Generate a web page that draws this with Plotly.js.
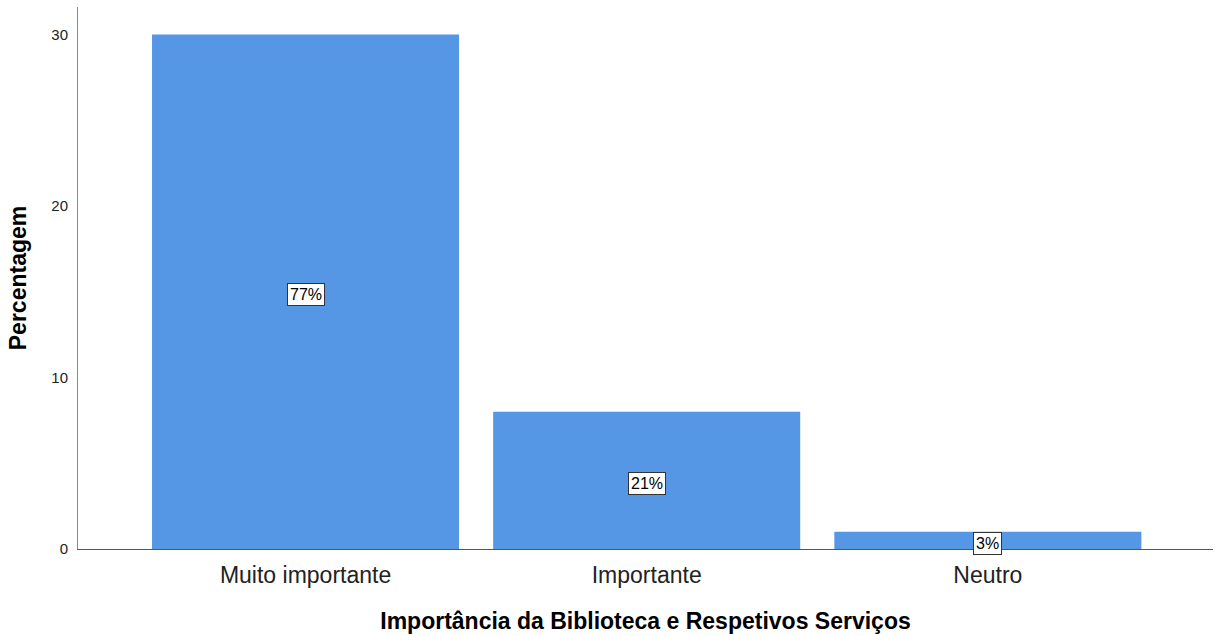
<!DOCTYPE html>
<html>
<head>
<meta charset="utf-8">
<script src="https://cdn.plot.ly/plotly-3.0.1.min.js"></script>
<style>html,body{margin:0;padding:0;background:#fff;}#chart{width:1222px;height:636px;}</style>
</head>
<body>
<div id="chart"></div>
<script>
const categories = ["Muito importante", "Importante", "Neutro"];
const percentValues = [30, 8, 1];
const barLabels = ["77%", "21%", "3%"];
const yTicks = [0, 10, 20, 30];

const FONT = "Liberation Sans, Arial, sans-serif";

const trace = {
  type: "bar",
  x: categories,
  y: percentValues,
  width: 0.9,
  marker: {color: "#5596e5", line: {width: 0}},
  hoverinfo: "none"
};

const annotations = categories.map((c, i) => ({
  x: c, y: percentValues[i] / 2, xref: "x", yref: "y",
  text: barLabels[i], showarrow: false, yshift: -3,
  bgcolor: "#ffffff", bordercolor: "#333333", borderwidth: 1, borderpad: 2,
  font: {family: FONT, size: 16, color: "#000"}
}));

const layout = {
  width: 1222, height: 636,
  margin: {l: 78, r: 9, t: 7, b: 87},
  paper_bgcolor: "#fff", plot_bgcolor: "#fff",
  showlegend: false,
  bargap: 0.1,
  xaxis: {
    type: "category",
    range: [-0.667, 2.66],
    showline: true, linecolor: "#555", linewidth: 1,
    showgrid: false, zeroline: false, ticks: "",
    ticklabelstandoff: 5,
    tickfont: {family: FONT, size: 23, color: "#222"},
    title: {text: "Importância da Biblioteca e Respetivos Serviços", standoff: 26,
            font: {family: FONT, size: 23, color: "#000", weight: "bold"}}
  },
  yaxis: {
    range: [0, 31.6],
    tickvals: yTicks,
    showline: true, linecolor: "#888", linewidth: 1,
    showgrid: false, zeroline: false, ticks: "",
    ticklabelstandoff: 6,
    tickfont: {family: FONT, size: 15, color: "#222"},
    title: {text: "Percentagem", standoff: 18,
            font: {family: FONT, size: 23, color: "#000", weight: "bold"}}
  },
  annotations: annotations
};

Plotly.newPlot("chart", [trace], layout, {displayModeBar: false, staticPlot: true});
</script>
</body>
</html>
